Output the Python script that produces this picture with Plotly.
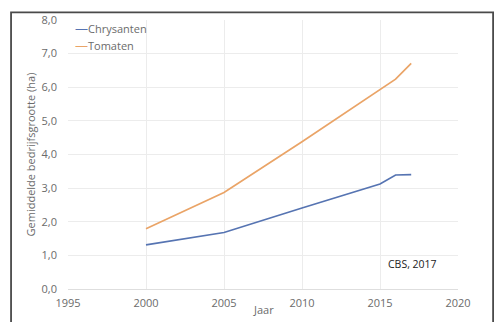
import plotly.graph_objects as go

# Gemiddelde bedrijfsgrootte (ha) per jaar
jaren = [2000, 2005, 2010, 2015, 2016, 2017]
chrysanten = [1.31, 1.68, 2.41, 3.12, 3.39, 3.40]
tomaten = [1.79, 2.87, 4.38, 5.92, 6.24, 6.71]

series = [("Chrysanten", chrysanten, "#5674B2"),
          ("Tomaten", tomaten, "#EAA467")]

x_ticks = [1995, 2000, 2005, 2010, 2015, 2020]
y_ticks = [0, 1, 2, 3, 4, 5, 6, 7, 8]

font = "Open Sans, Lato, sans-serif"
grey = "#6b6b6b"

fig = go.Figure()
for naam, waarden, kleur in series:
    fig.add_trace(go.Scatter(x=jaren, y=waarden, name=naam, mode="lines",
                             line=dict(color=kleur, width=1.7),
                             showlegend=False))

# legend entries drawn as text items in the top-left of the plot area
annotations = []
for i, (naam, _, kleur) in enumerate(series):
    annotations.append(dict(
        xref="paper", yref="paper", x=0.012, y=0.972 - i * 0.066,
        xanchor="left", yanchor="middle", showarrow=False,
        text=(f"<span style='color:{kleur};font-size:13px'>\u2014</span>"
              f"{naam}"),
        font=dict(family=font, size=11, color=grey)))

annotations += [
    dict(xref="paper", yref="paper", x=-0.095, y=0.5, textangle=-90,
         text="Gemiddelde bedrijfsgrootte (ha)", showarrow=False,
         xanchor="center", yanchor="middle",
         font=dict(family=font, size=11, color=grey)),
    dict(xref="paper", yref="paper", x=0.502, y=-0.075, text="Jaar",
         showarrow=False, xanchor="center", yanchor="middle",
         font=dict(family=font, size=11, color=grey)),
    dict(x=2017.1, y=0.75, text="CBS, 2017", showarrow=False,
         xanchor="center", yanchor="middle",
         font=dict(family=font, size=10.5, color="#222222")),
]

fig.update_layout(
    width=496, height=322,
    margin=dict(l=68, r=38, t=15, b=27),
    paper_bgcolor="white", plot_bgcolor="white",
    separators=",.",
    annotations=annotations,
    shapes=[dict(type="rect", xref="paper", yref="paper",
                 x0=-0.146, x1=1.09, y0=-0.2, y1=1.0286,
                 line=dict(color="#4a4a4a", width=1.8), layer="above")],
    xaxis=dict(range=[1995, 2020], tickvals=x_ticks, showgrid=True,
               gridcolor="#ececec", gridwidth=1, zeroline=False,
               showline=False, ticks="", ticklabelstandoff=6,
               tickfont=dict(family=font, size=11, color=grey)),
    yaxis=dict(range=[0, 8], tickvals=y_ticks, tickformat=".1f",
               showgrid=True, gridcolor="#ececec", gridwidth=1,
               zeroline=True, zerolinecolor="#dedede", zerolinewidth=1,
               showline=False, ticks="", ticklabelstandoff=10,
               tickfont=dict(family=font, size=11, color=grey)),
)

fig.write_html("out.html")
